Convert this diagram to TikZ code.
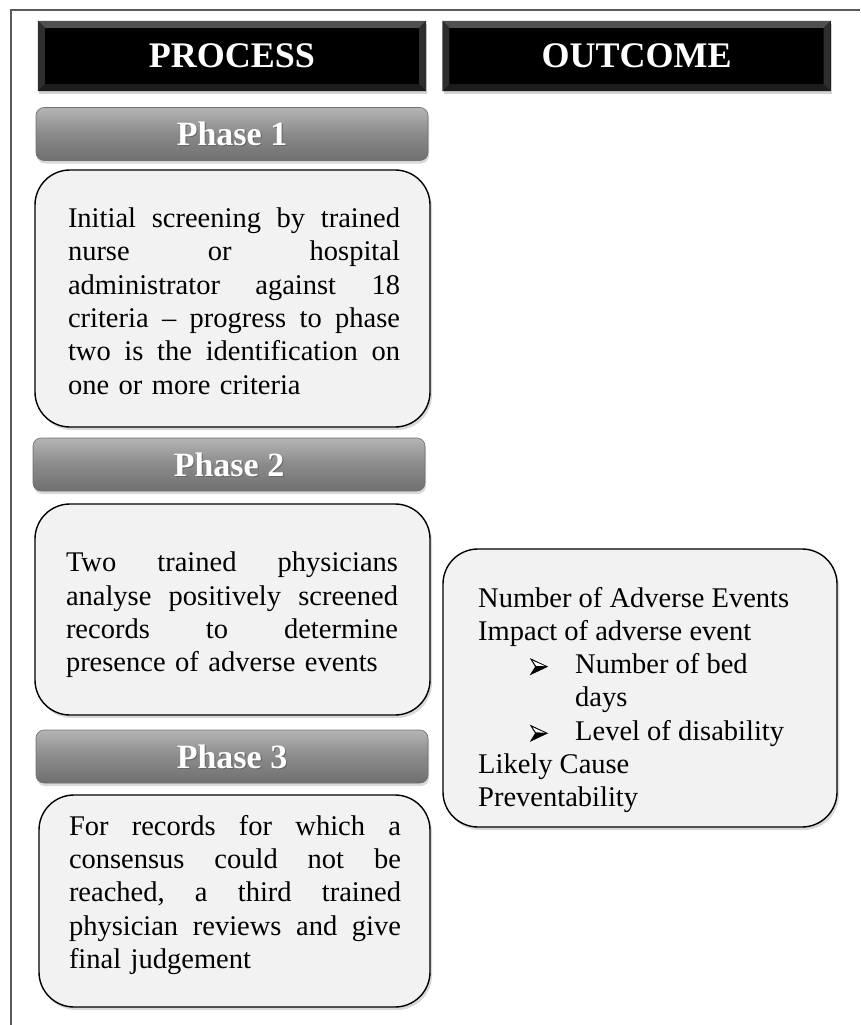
\documentclass[tikz,border=0pt]{standalone}
\usepackage{fontspec}
\setmainfont{Liberation Serif}
\usetikzlibrary{shadows,calc}
\definecolor{framegray}{HTML}{5A5A5A}
\definecolor{boxfill}{HTML}{F2F2F2}
\definecolor{bartop}{HTML}{B4B4B4}
\definecolor{barmid}{HTML}{8A8A8A}
\definecolor{barbot}{HTML}{707070}
\definecolor{bevtop}{HTML}{505050}
\definecolor{bevside}{HTML}{2E2E2E}
\definecolor{bevbot}{HTML}{1C1C1C}
\newcommand\jl[1]{\noindent\hbox to 332pt{#1}\par}
\newcommand\lastl[1]{\noindent #1\par}
\newcommand\wsp{\hfill}
\newcommand\arrowbullet{\makebox[45pt][l]{\tikz[baseline=-7pt,x=1pt,y=1pt]{%
  \fill[black] (0,8) -- (17,0) -- (0,-8) -- (5,0) -- cycle;
  \fill[white] (2.2,6) -- (14.5,0.6) -- (5.6,0.9) -- cycle;
  \draw[black, line width=0.5pt, line join=miter] (0,8) -- (17,0) -- (0,-8) -- (5,0) -- cycle;}}}
\begin{document}
\begin{tikzpicture}[x=1pt,y=-1pt,
  hdr/.style={fill=black, minimum width=388pt, minimum height=70pt, inner sep=0pt,
    drop shadow={shadow xshift=1pt,shadow yshift=-3pt,opacity=.35}},
  hdrtext/.style={text=white, inner sep=0pt, font=\bfseries\fontsize{36}{40}\selectfont},
  phasebar/.style={rounded corners=8pt, top color=bartop, bottom color=barbot, middle color=barmid,
    draw=barbot, line width=.6pt, minimum width=392pt, minimum height=53pt, inner sep=0pt,
    drop shadow={shadow xshift=1pt,shadow yshift=-3pt,opacity=.3}},
  phasetext/.style={text=white, inner sep=0pt, font=\bfseries\fontsize{34}{38}\selectfont},
  phaseshadow/.style={text=black!60, inner sep=0pt, font=\bfseries\fontsize{34}{38}\selectfont},
  txtbox/.style={rounded corners=35pt, fill=boxfill, draw=black, line width=1.4pt, inner sep=0pt,
    drop shadow={shadow xshift=2pt,shadow yshift=-3pt,opacity=.3}},
  bodytext/.style={text width=332pt, inner sep=0pt, font=\fontsize{28.5}{33.3}\selectfont},
  outtext/.style={align=left, inner sep=0pt, font=\fontsize{28.5}{33.3}\selectfont},
]
\useasboundingbox (0,0) rectangle (860,1025);
% frame
\coordinate (fbl) at (11,1025);
\coordinate (ftl) at (11,10);
\coordinate (ftr) at (860,10);
\draw[framegray, line width=1.8pt] (fbl) -- (ftl) -- (ftr);

% headers
\foreach \nm/\cx/\lbl in {hp/232/PROCESS, ho/636.5/OUTCOME}{
  \node[hdr] (\nm) at (\cx,56) {};
  \fill[bevtop] (\nm.north west) -- (\nm.north east) -- ($(\nm.north east)+(-7,7)$) -- ($(\nm.north west)+(7,7)$) -- cycle;
  \fill[bevbot] (\nm.south west) -- (\nm.south east) -- ($(\nm.south east)+(-7,-7)$) -- ($(\nm.south west)+(7,-7)$) -- cycle;
  \fill[bevside] (\nm.north west) -- ($(\nm.north west)+(7,7)$) -- ($(\nm.south west)+(7,-7)$) -- (\nm.south west) -- cycle;
  \fill[bevside] (\nm.north east) -- ($(\nm.north east)+(-7,7)$) -- ($(\nm.south east)+(-7,-7)$) -- (\nm.south east) -- cycle;
  \node[hdrtext] (\nm-t) at (\nm) {\lbl};
}

% phase bars
\foreach \nm/\cx/\cy/\lbl in {p1/232/134/Phase 1, p2/229/464.5/Phase 2, p3/232/756.5/Phase 3}{
  \node[phasebar] (\nm) at (\cx,\cy) {};
  \node[phaseshadow] (\nm-s) at ($(\nm)+(1.2,1.2)$) {\lbl};
  \node[phasetext] (\nm-t) at (\nm) {\lbl};
}

% text boxes
\node[txtbox, minimum width=395pt, minimum height=257pt] (b1) at (232.5,298.5) {};
\node[bodytext] (b1t) at (234,301) {%
\jl{Initial\wsp screening\wsp by\wsp trained}
\jl{nurse\wsp or\wsp hospital}
\jl{administrator\wsp against\wsp 18}
\jl{criteria\wsp --\wsp progress\wsp to\wsp phase}
\jl{two\wsp is\wsp the\wsp identification\wsp on}
\lastl{one or more criteria}};

\node[txtbox, minimum width=395pt, minimum height=211pt] (b2) at (232.5,609.5) {};
\node[bodytext] (b2t) at (232,615) {%
\jl{Two\wsp trained\wsp physicians}
\jl{analyse\wsp positively\wsp screened}
\jl{records\wsp to\wsp determine}
\lastl{presence of adverse events}};

\node[txtbox, minimum width=391pt, minimum height=212pt] (b3) at (234.5,901) {};
\node[bodytext] (b3t) at (235,895) {%
\jl{For\wsp records\wsp for\wsp which\wsp a}
\jl{consensus\wsp could\wsp not\wsp be}
\jl{reached,\wsp a\wsp third\wsp trained}
\jl{physician\wsp reviews\wsp and\wsp give}
\lastl{final judgement}};

% outcome box
\node[txtbox, minimum width=394pt, minimum height=278pt] (ob) at (640,688) {};
\node[outtext, anchor=west] (obt) at (478,700) {%
Number of Adverse Events\\
Impact of adverse event\\
\hspace*{52pt}\arrowbullet Number of bed\\
\hspace*{97pt}days\\
\hspace*{52pt}\arrowbullet Level of disability\\
Likely Cause\\
Preventability};
\end{tikzpicture}
\end{document}
